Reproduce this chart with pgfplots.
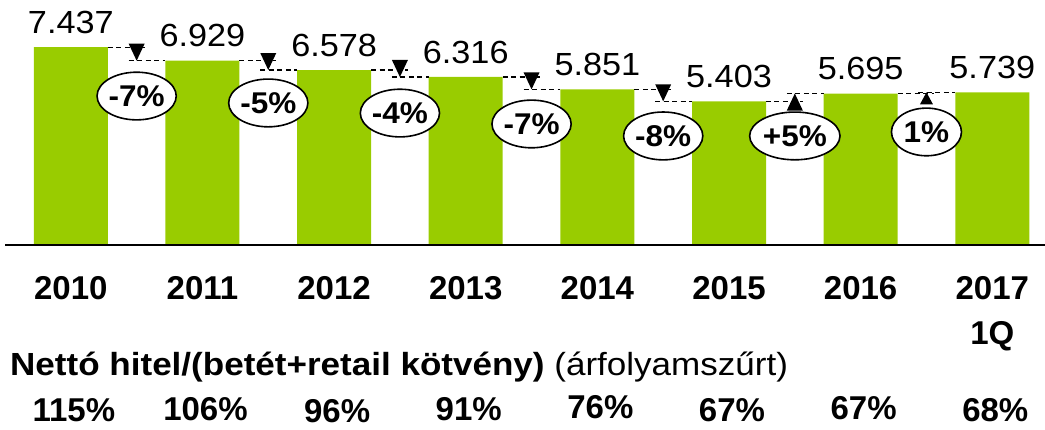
\documentclass[border=0pt]{standalone}
\usepackage{fontspec}
\setmainfont{Liberation Sans}
\usepackage{pgfplots}
\usepackage{pgfplotstable}
\pgfplotsset{compat=1.18}
\usetikzlibrary{shapes.geometric}
\definecolor{bargreen}{HTML}{99CC00}

\pgfplotstableread{
x y lab pct py
0 7.437 7.437 115 -6.20
1 6.929 6.929 106 -6.17
2 6.578 6.578 96 -6.24
3 6.316 6.316 91 -6.17
4 5.851 5.851 76 -6.10
5 5.403 5.403 67 -6.20
6 5.695 5.695 67 -6.14
7 5.739 5.739 68 -6.22
}\datatable

\tikzset{pct/.style={ellipse, draw=black, line width=1.6pt, fill=white,
    font=\fontsize{30}{32}\selectfont\bfseries, inner xsep=0pt, inner ysep=6.3pt,
    minimum width=70pt}}

% #1 mid x, #2 previous value, #3 next value, #4 label, #5 ellipse y
\newcommand{\chgdown}[5]{%
  \draw[black, line width=1.1pt, dash pattern=on 5pt off 3.5pt] ([xshift=-28.85pt]axis cs:#1,#2) -- ([xshift=8pt]axis cs:#1,#2);
  \draw[black, line width=1.1pt, dash pattern=on 5pt off 3.5pt] ([xshift=-8pt]axis cs:#1,#3) -- ([xshift=28.85pt]axis cs:#1,#3);
  \fill[black] (axis cs:#1,#3) -- ([xshift=-8pt,yshift=17pt]axis cs:#1,#3) -- ([xshift=8pt,yshift=17pt]axis cs:#1,#3) -- cycle;
  \node[pct] at (axis cs:#1,#5) {\scalebox{1.05}[1]{#4}};
}
\newcommand{\chgup}[7]{%
  \draw[black, line width=1.1pt, dash pattern=on 5pt off 3.5pt] ([xshift=-28.85pt]axis cs:#1,#2) -- ([xshift=8pt]axis cs:#1,#2);
  \draw[black, line width=1.1pt, dash pattern=on 5pt off 3.5pt] ([xshift=-8pt]axis cs:#1,#3) -- ([xshift=28.85pt]axis cs:#1,#3);
  \fill[black] (axis cs:#1,#3) -- ([xshift=-#7,yshift=-#6]axis cs:#1,#3) -- ([xshift=#7,yshift=-#6]axis cs:#1,#3) -- cycle;
  \node[pct] at (axis cs:#1,#5) {\scalebox{1.05}[1]{#4}};
}

\begin{document}
\begin{tikzpicture}
\begin{axis}[
  at={(5pt,184pt)}, anchor=south west,
  scale only axis,
  width=1040pt, height=245pt,
  xmin=-0.5, xmax=7.4,
  ymin=0, ymax=9.21,
  axis x line=bottom,
  axis y line=none,
  axis line style={line width=2.4pt, -},
  axis on top,
  clip=false,
  xtick={0,...,7},
  xticklabels={2010,2011,2012,2013,2014,2015,2016,{2017\\1Q}},
  major tick length=0pt,
  xticklabel style={font=\fontsize{33}{45}\selectfont\bfseries, align=center, anchor=north, inner sep=0pt, yshift=-31pt},
  ytick=\empty,
]
\addplot[ybar, bar width=74pt, fill=bargreen, draw=none,
  nodes near coords={\scalebox{1.07}[1]{\pgfplotspointmeta}}, point meta=explicit symbolic,
  nodes near coords style={anchor=center, yshift=25pt, font=\fontsize{32}{36}\selectfont, text=black}]
  table[x=x, y=y, meta=lab] {\datatable};
\addplot[draw=none, mark=none,
  nodes near coords={\pgfplotspointmeta\%}, point meta=explicit symbolic,
  nodes near coords style={anchor=center, xshift=3pt, font=\fontsize{33}{36}\selectfont\bfseries, text=black}]
  table[x=x, y=py, meta=pct] {\datatable};

\chgdown{0.5}{7.437}{6.929}{-7\%}{5.60}
\chgdown{1.5}{6.929}{6.578}{-5\%}{5.34}
\chgdown{2.5}{6.578}{6.316}{-4\%}{4.96}
\chgdown{3.5}{6.316}{5.851}{-7\%}{4.55}
\chgdown{4.5}{5.851}{5.403}{-8\%}{4.10}
\chgup{5.5}{5.403}{5.695}{+5\%}{4.10}{17pt}{8pt}
\chgup{6.5}{5.695}{5.739}{1\%}{4.25}{12pt}{6.5pt}
\end{axis}
\node[anchor=west, inner sep=0pt] at (10pt,62pt) {\fontsize{32}{36}\selectfont\scalebox{1.095}[1]{\textbf{Nettó hitel/(betét+retail kötvény)} (árfolyamszűrt)}};
\pgfresetboundingbox
\path[use as bounding box] (0,0) rectangle (1045pt,429pt);
\end{tikzpicture}
\end{document}
